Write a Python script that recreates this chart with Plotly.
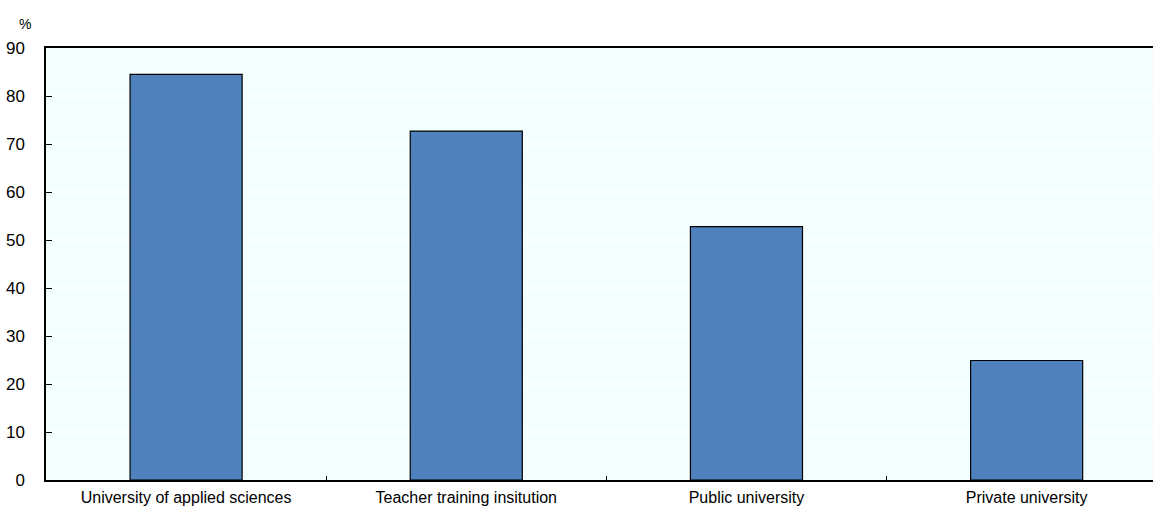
import plotly.graph_objects as go

categories = ["University of applied sciences", "Teacher training insitution",
              "Public university", "Private university"]
values = [84.5, 72.7, 52.8, 24.9]
y_ticks = [0, 10, 20, 30, 40, 50, 60, 70, 80, 90]

FONT = "Liberation Sans, Arial, sans-serif"

fig = go.Figure(go.Bar(
    x=categories, y=values, width=0.4,
    marker=dict(color="#4F81BD", line=dict(color="black", width=1.2)),
))

fig.update_layout(
    width=1153, height=507,
    margin=dict(l=46, r=0, t=48, b=27),
    plot_bgcolor="#F3FEFF", paper_bgcolor="white",
    showlegend=False,
    font=dict(family=FONT, size=16, color="black"),
    bargap=0.6,
)
fig.update_xaxes(
    type="category", range=[-0.5, 3.451], automargin=False,
    showline=True, linecolor="black", linewidth=2, mirror=True,
    showgrid=False, tickson="boundaries", ticks="inside", ticklen=4,
    tickcolor="black", tickwidth=1, ticklabelstandoff=2,
)
fig.update_yaxes(
    range=[0, 90], tickvals=y_ticks, automargin=False,
    showline=True, linecolor="black", linewidth=1.5, mirror=False,
    showgrid=True, gridcolor="white", gridwidth=1.5,
    ticks="inside", ticklen=6, tickcolor="black", tickwidth=1.2,
    ticklabelstandoff=16, zeroline=False, tickfont=dict(size=17),
)
fig.add_annotation(text="%", xref="paper", yref="paper", x=-0.019, y=1.032,
                   xanchor="center", yanchor="bottom", showarrow=False,
                   font=dict(family=FONT, size=14, color="black"))
fig.write_html("out.html",
               config={"displayModeBar": False},
               post_script="document.body.style.margin='0';"
                           "document.body.style.overflow='hidden';")
